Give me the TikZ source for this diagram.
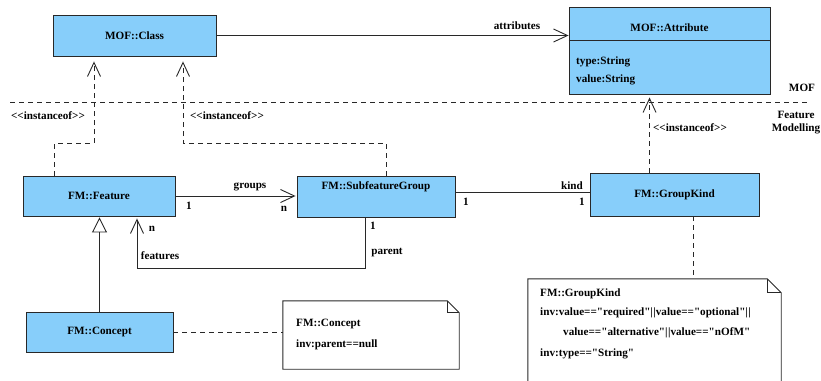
\documentclass[tikz,border=0pt]{standalone}
\usepackage{fontspec}
\newfontfamily\umlfont{Liberation Serif}
\usetikzlibrary{arrows.meta,calc}
\definecolor{umlblue}{RGB}{135,206,250}
\definecolor{umlline}{RGB}{40,40,40}
\begin{document}
\begin{tikzpicture}[x=1bp,y=-1bp,
  font=\umlfont\fontsize{11.2}{13}\selectfont\bfseries,
  every node/.style={inner sep=1bp},
  cls/.style={draw=umlline, fill=umlblue, line width=0.9bp, inner sep=0},
  plain/.style={draw=umlline, line width=0.9bp},
  notebody/.style={inner sep=0},
  assoc/.style={plain, -{Straight Barb[length=14bp,width=13bp]}},
  dep/.style={plain, dash pattern=on 5bp off 4bp, -{Straight Barb[length=14bp,width=13bp]}},
  link/.style={plain, dash pattern=on 5bp off 4bp},
  gen/.style={plain, -{Triangle[open,length=15bp,width=15bp]}},
  lbl/.style={inner sep=0}]
\useasboundingbox (0,0) rectangle (821,380);
\clip (0,0) rectangle (821,380);

% ---- MOF layer ----
\node[cls, minimum width=163bp, minimum height=41bp] (class) at (134.5,35.5) {MOF::Class};
\node[cls, minimum width=201bp, minimum height=87bp] (attr) at (669.5,50.5) {};
\draw[plain] ($(attr.north west)+(0,34)$) -- ($(attr.north east)+(0,34)$);
\node[lbl] (attrname) at (669.5,28) {MOF::Attribute};
\node[lbl, anchor=west] (attrtype) at (576,62) {type:String};
\node[lbl, anchor=west] (attrval) at (576,80) {value:String};

\draw[assoc] (class.east) -- (class.east -| attr.west);
\node[lbl] (attrlbl) at (517,26) {attributes};

% ---- layer separator ----
\draw[link] (10,102) -- (808,102);
\node[lbl] (moflbl) at (802,88) {MOF};
\node[lbl, align=center] (fmlbl) at (796,123) {Feature\\Modelling};

% ---- Feature Modelling layer ----
\node[cls, minimum width=152bp, minimum height=40bp] (feature) at (99,196) {FM::Feature};
\node[cls, minimum width=158bp, minimum height=41bp] (group) at (376,196.5) {};
\node[lbl] (groupname) at (376,187) {FM::SubfeatureGroup};
\node[cls, minimum width=169bp, minimum height=43bp] (kind) at (674.5,194.5) {FM::GroupKind};
\node[cls, minimum width=147bp, minimum height=40bp] (concept) at (99.5,332) {FM::Concept};

% instanceof dependencies
\coordinate (bendA) at (94,143);
\coordinate (bendB) at (183,143);
\draw[dep, shorten >=5bp] ([xshift=32bp]feature.north west) |- (bendA) -- (bendA |- class.south);
\draw[dep, shorten >=5bp] ([xshift=90bp]group.north west) |- (bendB) -- (bendB |- class.south);
\draw[dep, shorten >=3bp] ([xshift=60bp]kind.north west) -- ([xshift=60bp]kind.north west |- attr.south);
\node[lbl] (inst1) at (48,116) {<<instanceof>>};
\node[lbl] (inst2) at (227,116) {<<instanceof>>};
\node[lbl] (inst3) at (690,128) {<<instanceof>>};

% groups association
\draw[assoc, shorten >=1bp] (feature.east) -- (feature.east -| group.west);
\node[lbl] (groupslbl) at (250,187) {groups};
\node[lbl] (g1) at (189,206) {1};
\node[lbl] (gn) at (284,209) {n};

% kind association
\draw[plain] ([yshift=4.5bp]group.east) -- ([yshift=4.5bp]group.east -| kind.west);
\node[lbl] (k1) at (466,202) {1};
\node[lbl] (kindlbl) at (572,186) {kind};
\node[lbl] (k2) at (582,202) {1};

% features / parent association
\coordinate (loopA) at (137,268);
\draw[assoc, shorten >=2bp] ([xshift=69bp]group.south west) |- (loopA) -- (loopA |- feature.south);
\node[lbl] (fn) at (152,229) {n};
\node[lbl] (featlbl) at (160,256) {features};
\node[lbl] (p1) at (373,226) {1};
\node[lbl] (parentlbl) at (387,253) {parent};

% generalisation
\draw[gen, shorten >=1bp] (concept.north) -- (concept.north |- feature.south);

% ---- notes ----
\node[notebody, minimum width=176bp, minimum height=68bp] (cnote) at (371,335) {};
\draw[plain, fill=white] (cnote.north west) -- ([xshift=-12bp]cnote.north east)
  -- ([yshift=-12bp]cnote.north east) -- (cnote.south east) -- (cnote.south west) -- cycle;
\draw[plain] ([xshift=-12bp]cnote.north east) |- ([yshift=-12bp]cnote.north east);
\node[lbl, anchor=west] (cnote1) at (296,324) {FM::Concept};
\node[lbl, anchor=west] (cnote2) at (296,345) {inv:parent==null};
\draw[link] (concept.east) -- (concept.east -| cnote.west);

\node[notebody, minimum width=253bp, minimum height=130bp] (knote) at (654.5,344) {};
\draw[plain, fill=white] (knote.north west) -- ([xshift=-14bp]knote.north east)
  -- ([yshift=-14bp]knote.north east) -- (knote.south east) -- (knote.south west) -- cycle;
\draw[plain] ([xshift=-14bp]knote.north east) |- ([yshift=-14bp]knote.north east);
\node[lbl, anchor=west] (knote1) at (540,294) {FM::GroupKind};
\node[lbl, anchor=west] (knote2) at (540,313) {inv:value=="required"|\kern0.5bp|value=="optional"|\kern0.5bp|};
\node[lbl, anchor=west] (knote3) at (563,333) {value=="alternative"|\kern0.5bp|value=="nOfM"};
\node[lbl, anchor=west] (knote4) at (540,354) {inv:type=="String"};
\draw[link] ([xshift=104bp]kind.south west) -- ([xshift=104bp]kind.south west |- knote.north);
\end{tikzpicture}
\end{document}
